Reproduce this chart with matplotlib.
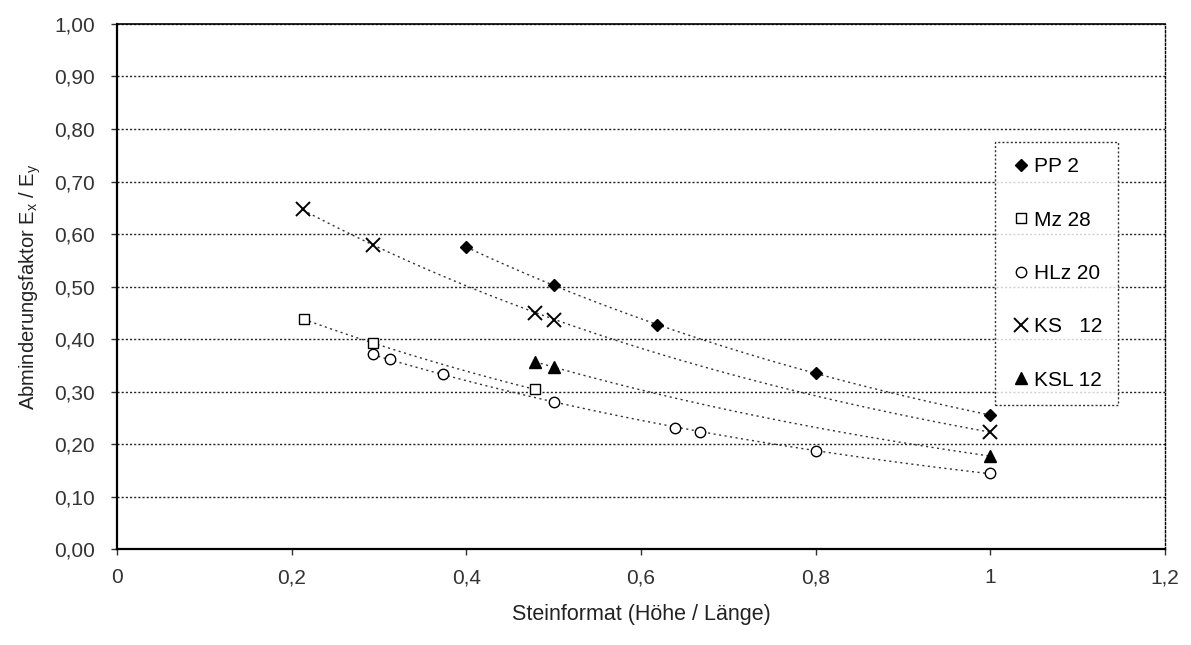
import numpy as np
import matplotlib.pyplot as plt
from matplotlib.ticker import FuncFormatter, MultipleLocator

plt.rcParams['font.family'] = ['Liberation Sans', 'DejaVu Sans']
plt.rcParams['mathtext.fontset'] = 'custom'
plt.rcParams['mathtext.rm'] = 'Liberation Sans'
plt.rcParams['mathtext.it'] = 'Liberation Sans'

# data (x = Höhe / Länge, y = Ex / Ey)
pp2_x = [0.40, 0.50, 0.618, 0.80, 1.00]
pp2_y = [0.575, 0.503, 0.427, 0.335, 0.255]

mz28_x = [0.214, 0.293, 0.479]
mz28_y = [0.438, 0.392, 0.304]

hlz20_x = [0.293, 0.313, 0.373, 0.50, 0.639, 0.668, 0.80, 1.00]
hlz20_y = [0.372, 0.362, 0.333, 0.280, 0.230, 0.222, 0.187, 0.145]

ks12_x = [0.213, 0.293, 0.479, 0.50, 1.00]
ks12_y = [0.648, 0.579, 0.450, 0.436, 0.223]

ksl12_x = [0.479, 0.50, 1.00]
ksl12_y = [0.356, 0.347, 0.177]

series = [
    ("PP 2", pp2_x, pp2_y, dict(marker="D", ms=6, mfc="black")),
    ("Mz 28", mz28_x, mz28_y, dict(marker="s", ms=7.5, mfc="white")),
    ("HLz 20", hlz20_x, hlz20_y, dict(marker="o", ms=7.5, mfc="white")),
    ("KS   12", ks12_x, ks12_y, dict(marker="x", ms=10, mew=1.4)),
    ("KSL 12", ksl12_x, ksl12_y, dict(marker="^", ms=8, mfc="black")),
]

fig = plt.figure(figsize=(11.91, 6.45), dpi=100)
ax = fig.add_axes([0.0982, 0.1488, 0.8800, 0.8140])

for label, xs, ys, style in series:
    xs = np.array(xs)
    ys = np.array(ys)
    # exponential trend line over the data range
    k, c = np.polyfit(xs, np.log(ys), 1)
    xt = np.linspace(xs.min(), xs.max(), 100)
    ax.plot(xt, np.exp(c + k * xt), linestyle=(0, (1.5, 2.5)), color="#333333", lw=1.0, zorder=2)
    ax.plot(xs, ys, linestyle="none", color="black", mec="black", label=label, zorder=3, **style)

ax.set_xlim(0, 1.2)
ax.set_ylim(0, 1.0)
ax.xaxis.set_major_locator(MultipleLocator(0.2))
ax.yaxis.set_major_locator(MultipleLocator(0.1))

def x_fmt(v, pos):
    s = f"{v:.1f}".rstrip("0").rstrip(".")
    return s.replace(".", ",")

ax.xaxis.set_major_formatter(FuncFormatter(x_fmt))
ax.yaxis.set_major_formatter(FuncFormatter(lambda v, pos: f"{v:.2f}".replace(".", ",")))

ax.grid(axis="y", linestyle=(0, (1.5, 1.5)), color="#222222", lw=1.0)
ax.set_axisbelow(True)

ax.spines["left"].set_linewidth(1.6)
ax.spines["bottom"].set_linewidth(1.6)
ax.spines["top"].set_linewidth(1.2)
ax.spines["right"].set_linestyle((0, (1.5, 1.5)))
ax.spines["right"].set_linewidth(1.0)

ax.tick_params(axis="both", labelsize=15, colors="#333333", length=4, width=1)
ax.tick_params(axis="x", pad=10)
ax.tick_params(axis="y", pad=12)

ax.set_xlabel("Steinformat (Höhe / Länge)", fontsize=15.5, labelpad=12, color="#222222")
ax.set_ylabel("Abminderungsfaktor E$_\\mathrm{x}$ / E$_\\mathrm{y}$", fontsize=14.5, labelpad=8,
              color="#222222")

leg = ax.legend(loc="upper left", bbox_to_anchor=(0.838, 0.776), fontsize=15,
                frameon=True, fancybox=False, handletextpad=0.1, handlelength=1.0,
                labelspacing=1.65, borderpad=0.75, borderaxespad=0)
leg.get_frame().set_edgecolor("black")
leg.get_frame().set_linestyle((0, (1.5, 1.5)))
leg.get_frame().set_linewidth(1.0)

fig.savefig("out.png", dpi=100)
